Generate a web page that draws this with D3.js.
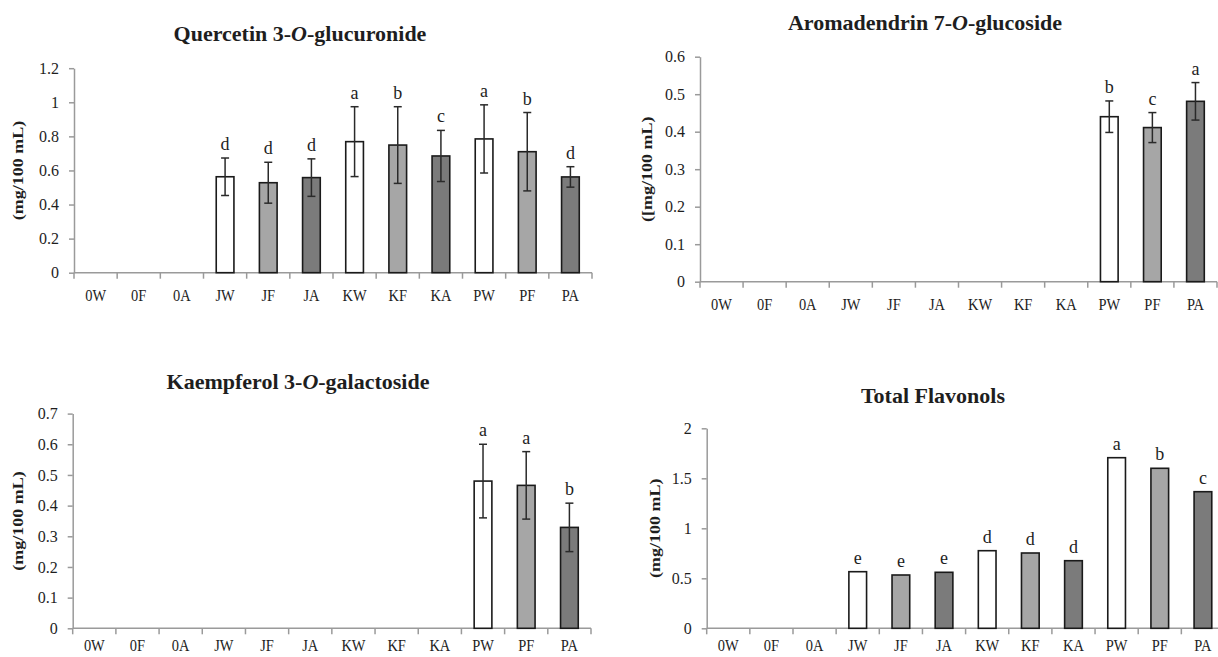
<!DOCTYPE html>
<html>
<head>
<meta charset="utf-8">
<script src="https://cdn.jsdelivr.net/npm/d3@7"></script>
<style>
  html, body { margin: 0; padding: 0; background: #fff; }
  svg { display: block; }
  text { font-family: "Liberation Serif", "Times New Roman", serif; fill: #1e1e1e; }
</style>
</head>
<body>
<svg id="chart" width="1218" height="657"></svg>
<script>
// ---------- data ----------
const categories = ["0W","0F","0A","JW","JF","JA","KW","KF","KA","PW","PF","PA"];

const quercetinMean    = [0,0,0,0.563,0.528,0.558,0.769,0.749,0.685,0.785,0.710,0.562];
const quercetinErr     = [0,0,0,0.110,0.120,0.110,0.205,0.225,0.150,0.200,0.230,0.060];
const quercetinLetters = ["","","","d","d","d","a","b","c","a","b","d"];
const quercetinTicks   = [0,0.2,0.4,0.6,0.8,1,1.2];

const aromaMean    = [0,0,0,0,0,0,0,0,0,0.440,0.411,0.481];
const aromaErr     = [0,0,0,0,0,0,0,0,0,0.042,0.040,0.050];
const aromaLetters = ["","","","","","","","","","b","c","a"];
const aromaTicks   = [0,0.1,0.2,0.3,0.4,0.5,0.6];

const kaempMean    = [0,0,0,0,0,0,0,0,0,0.480,0.466,0.329];
const kaempErr     = [0,0,0,0,0,0,0,0,0,0.120,0.110,0.079];
const kaempLetters = ["","","","","","","","","","a","a","b"];
const kaempTicks   = [0,0.1,0.2,0.3,0.4,0.5,0.6,0.7];

const totalMean    = [0,0,0,0.566,0.533,0.560,0.776,0.753,0.676,1.706,1.600,1.366];
const totalErr     = [0,0,0,0,0,0,0,0,0,0,0,0];
const totalLetters = ["","","","e","e","e","d","d","d","a","b","c"];
const totalTicks   = [0,0.5,1,1.5,2];

const fillBySuffix = { W: "#ffffff", F: "#a6a6a6", A: "#7b7b7b" };

// ---------- panel layout ----------
const panels = [
  { title: ["Quercetin 3-", "O", "-glucuronide"], yLabel: "(mg/100 mL)",
    mean: quercetinMean, err: quercetinErr, letters: quercetinLetters, ticks: quercetinTicks,
    x0: 74, x1: 592, yZero: 272.7, yTop: 68.2, titleX: 300, titleY: 41, yLabelX: 18, labPad: 16 },
  { title: ["Aromadendrin 7-", "O", "-glucoside"], yLabel: "([mg/100 mL)",
    mean: aromaMean, err: aromaErr, letters: aromaLetters, ticks: aromaTicks,
    x0: 700, x1: 1217, yZero: 281.7, yTop: 56.7, titleX: 925, titleY: 30, yLabelX: 647, labPad: 16 },
  { title: ["Kaempferol 3-", "O", "-galactoside"], yLabel: "(mg/100 mL)",
    mean: kaempMean, err: kaempErr, letters: kaempLetters, ticks: kaempTicks,
    x0: 72.7, x1: 591, yZero: 628.3, yTop: 413.6, titleX: 298, titleY: 388.5, yLabelX: 18, labPad: 11 },
  { title: ["Total Flavonols"], yLabel: "(mg/100 mL)",
    mean: totalMean, err: totalErr, letters: totalLetters, ticks: totalTicks,
    x0: 706.7, x1: 1224.5, yZero: 628.3, yTop: 428.3, titleX: 933, titleY: 402.5, yLabelX: 655, labPad: 11 }
];

const svg = d3.select("#chart");
const axisColor = "#9a9a9a";

panels.forEach(p => {
  const g = svg.append("g");
  const yMax = p.ticks[p.ticks.length - 1];

  const x = d3.scaleBand().domain(categories).range([p.x0, p.x1])
    .paddingInner(0.59).paddingOuter(0.295);
  const y = d3.scaleLinear().domain([0, yMax]).range([p.yZero, p.yTop]);

  // title
  const t = g.append("text")
    .attr("x", p.titleX).attr("y", p.titleY)
    .attr("text-anchor", "middle")
    .style("font-size", "22px").style("font-weight", "bold");
  p.title.forEach((s, i) => {
    t.append("tspan").text(s).style("font-style", (p.title.length === 3 && i === 1) ? "italic" : "normal");
  });

  // y label
  const cy = (p.yZero + p.yTop) / 2;
  g.append("text")
    .attr("transform", `translate(${p.yLabelX},${cy}) rotate(-90) scale(1,0.8)`)
    .attr("text-anchor", "middle").attr("dy", "0.35em")
    .style("font-size", "18px").style("font-weight", "bold")
    .text(p.yLabel);

  // y axis
  const yAxis = g.append("g").attr("transform", `translate(${p.x0},0)`)
    .call(d3.axisLeft(y).tickValues(p.ticks).tickSize(5).tickSizeOuter(0).tickPadding(10)
      .tickFormat(d => String(+d.toFixed(2))));
  yAxis.select(".domain").attr("stroke", axisColor).attr("stroke-width", 1.5);
  yAxis.selectAll(".tick line").attr("stroke", axisColor).attr("stroke-width", 1.5);
  yAxis.selectAll(".tick text").style("font-size", "16px").style("font-family", "Liberation Serif, serif").attr("fill", "#222");

  // x axis (labels)
  const xAxis = g.append("g").attr("transform", `translate(0,${p.yZero})`)
    .call(d3.axisBottom(x).tickSize(0).tickSizeOuter(0).tickPadding(p.labPad));
  xAxis.select(".domain").attr("stroke", axisColor).attr("stroke-width", 1.5)
    .attr("d", `M${p.x0},0H${Math.min(p.x1, 1218)}`);
  xAxis.selectAll(".tick text").style("font-size", "17px").style("font-family", "Liberation Serif, serif")
    .attr("fill", "#222").attr("transform", "scale(0.85,1)");

  // boundary ticks on x axis
  const step = x.step();
  const bounds = categories.map(c => x(c) - step * x.paddingOuter()).concat([p.x1]);
  g.append("g").selectAll("line").data(bounds).join("line")
    .attr("x1", d => d).attr("x2", d => d)
    .attr("y1", p.yZero).attr("y2", p.yZero + 6)
    .attr("stroke", axisColor).attr("stroke-width", 1.5);

  // bars
  const rows = categories.map((c, i) => ({ c, v: p.mean[i], e: p.err[i], l: p.letters[i] }));
  g.append("g").selectAll("rect").data(rows.filter(r => r.v > 0)).join("rect")
    .attr("x", d => x(d.c)).attr("width", x.bandwidth())
    .attr("y", d => y(d.v)).attr("height", d => y(0) - y(d.v))
    .attr("fill", d => fillBySuffix[d.c.slice(-1)])
    .attr("stroke", "#1a1a1a").attr("stroke-width", 1.6);

  // error bars
  const eb = g.append("g").selectAll("g").data(rows.filter(r => r.e > 0)).join("g")
    .attr("stroke", "#2a2a2a").attr("stroke-width", 1.5);
  eb.append("line")
    .attr("x1", d => x(d.c) + x.bandwidth() / 2).attr("x2", d => x(d.c) + x.bandwidth() / 2)
    .attr("y1", d => y(d.v + d.e)).attr("y2", d => y(d.v - d.e));
  eb.append("line")
    .attr("x1", d => x(d.c) + x.bandwidth() / 2 - 4).attr("x2", d => x(d.c) + x.bandwidth() / 2 + 4)
    .attr("y1", d => y(d.v + d.e)).attr("y2", d => y(d.v + d.e));
  eb.append("line")
    .attr("x1", d => x(d.c) + x.bandwidth() / 2 - 4).attr("x2", d => x(d.c) + x.bandwidth() / 2 + 4)
    .attr("y1", d => y(d.v - d.e)).attr("y2", d => y(d.v - d.e));

  // significance letters
  g.append("g").selectAll("text").data(rows.filter(r => r.l)).join("text")
    .attr("x", d => x(d.c) + x.bandwidth() / 2)
    .attr("y", d => y(d.v + d.e) - 8)
    .attr("text-anchor", "middle")
    .style("font-size", "18px")
    .text(d => d.l);
});
</script>
</body>
</html>
